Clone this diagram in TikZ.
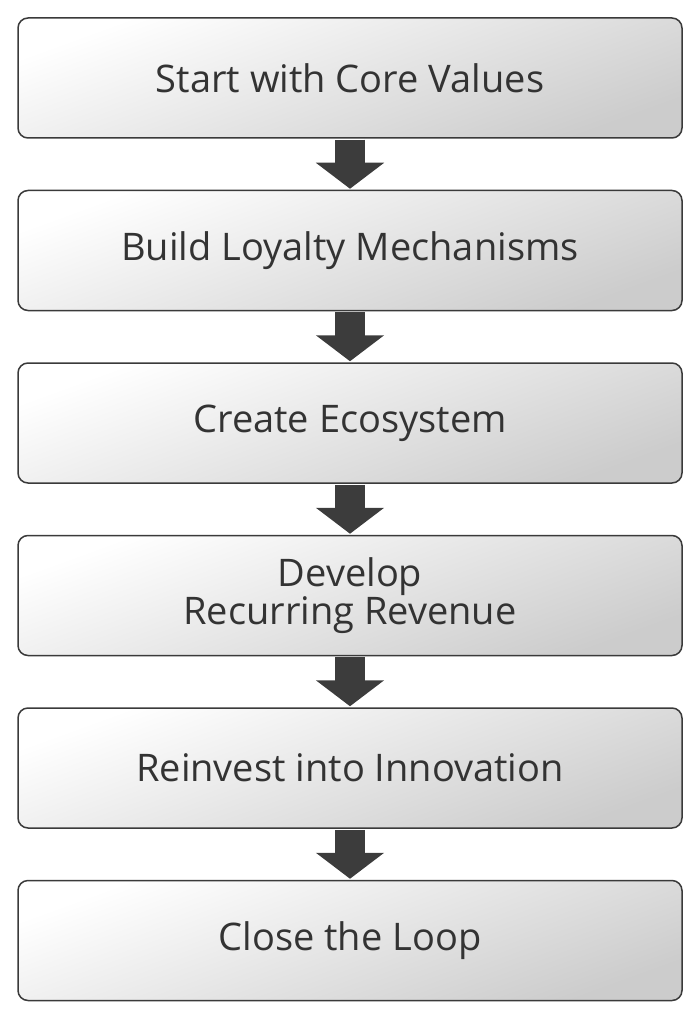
\documentclass[tikz,border=0pt]{standalone}
\usepackage{fontspec}
\setmainfont{Open Sans}
\usetikzlibrary{positioning,arrows.meta}
\definecolor{boxline}{HTML}{3A3A3A}
\definecolor{arrowfill}{HTML}{3C3C3C}
\definecolor{txt}{HTML}{333333}
\tikzset{
  stage/.style={draw=boxline, line width=1.5pt, rounded corners=10pt,
    minimum width=664pt, minimum height=120pt, align=center, text=txt,
    shading=axis, top color=white, bottom color=black!20, shading angle=20,
    font=\fontsize{38}{32}\selectfont},
  flow/.style={draw=arrowfill, line width=30pt,
    -{Triangle[width=67pt,length=26pt]}, shorten <=1pt, shorten >=1pt}
}
\begin{document}
\begin{tikzpicture}[node distance=51pt]
  \useasboundingbox (0,0) rectangle (700pt,-1024pt);
  \node[stage] (core) at (350pt,-78pt) {Start with Core Values};
  \node[stage, below=of core] (loyal) {Build Loyalty Mechanisms};
  \node[stage, below=of loyal] (eco) {Create Ecosystem};
  \node[stage, below=of eco] (rev) {Develop\\Recurring Revenue};
  \node[stage, below=of rev] (innov) {Reinvest into Innovation};
  \node[stage, below=of innov] (loop) {Close the Loop};
  \foreach \a/\b in {core/loyal,loyal/eco,eco/rev,rev/innov,innov/loop}
    \draw[flow] (\a.south) -- (\b.north);
\end{tikzpicture}
\end{document}
